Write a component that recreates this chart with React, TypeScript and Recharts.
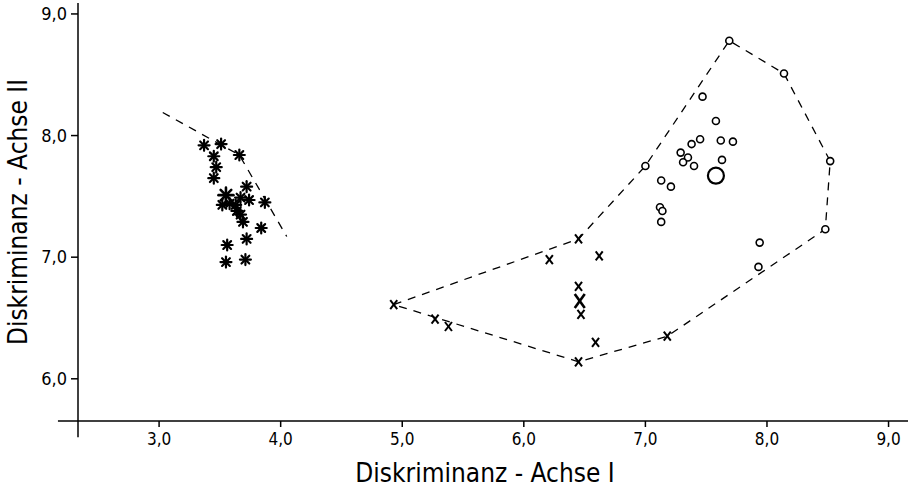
import React from "react";
import {
  ReferenceLine,
  Scatter,
  ScatterChart,
  XAxis,
  YAxis,
  Label,
} from "recharts";

// Group 1 (asterisks)
const starX = [3.37, 3.51, 3.66, 3.45, 3.47, 3.45, 3.72, 3.55, 3.67, 3.74, 3.87, 3.52, 3.58, 3.63, 3.64, 3.67, 3.69, 3.84, 3.72, 3.56, 3.55, 3.71];
const starY = [7.92, 7.93, 7.84, 7.83, 7.74, 7.65, 7.58, 7.51, 7.49, 7.47, 7.45, 7.43, 7.44, 7.43, 7.38, 7.35, 7.29, 7.24, 7.15, 7.10, 6.96, 6.98];
const starBig = [7];

// Group 2 (crosses)
const crossX = [4.93, 5.27, 5.38, 6.45, 7.18, 6.45, 6.21, 6.62, 6.45, 6.46, 6.47, 6.59];
const crossY = [6.61, 6.49, 6.43, 6.14, 6.35, 7.15, 6.98, 7.01, 6.76, 6.64, 6.53, 6.30];
const crossBig = [9];

// Group 3 (open circles)
const circX = [7.69, 8.14, 8.52, 7.47, 7.00, 7.58, 7.38, 7.45, 7.62, 7.72, 7.29, 7.35, 7.31, 7.40, 7.63, 7.58, 7.13, 7.21, 7.12, 7.14, 7.13, 7.94, 7.93, 8.48];
const circY = [8.78, 8.51, 7.79, 8.32, 7.75, 8.12, 7.93, 7.97, 7.96, 7.95, 7.86, 7.82, 7.78, 7.75, 7.80, 7.67, 7.63, 7.58, 7.41, 7.38, 7.29, 7.12, 6.92, 7.23];
const circBig = [15];

// dashed boundaries
const starEdgeX = [3.03, 3.66, 4.05];
const starEdgeY = [8.19, 7.84, 7.17];
const hullX = [4.93, 6.45, 7.0, 7.69, 8.14, 8.52, 8.48, 7.18, 6.45, 4.93];
const hullY = [6.61, 7.15, 7.75, 8.78, 8.51, 7.79, 7.23, 6.35, 6.14, 6.61];

const ticks = [3, 4, 5, 6, 7, 8, 9];
const yTicks = [6, 7, 8, 9];

const X_MIN = 2.333;
const X_MAX = 9.16;
const Y_MIN = 5.653;
const Y_MAX = 9.09;

const pts = (xs: number[], ys: number[], big: number[] = []) =>
  xs.map((x, i) => ({ x, y: ys[i], big: big.includes(i) }));

const fmt = (v: number) => v.toFixed(1).replace(".", ",");
const FONT = "'DejaVu Sans Condensed', 'DejaVu Sans', sans-serif";

const XTick = (p: any) => (
  <text x={p.x} y={p.y + 16} textAnchor="middle" fontSize={17} fill="#000" fontFamily={FONT}>
    {fmt(p.payload.value)}
  </text>
);

const YTick = (p: any) => (
  <text x={p.x - 2} y={p.y + 6} textAnchor="end" fontSize={18} fill="#000" fontFamily={FONT}>
    {fmt(p.payload.value)}
  </text>
);

const Star = (p: any) => {
  const { cx, cy, payload } = p;
  const r = payload.big ? 7.5 : 5.5;
  const d = r * 0.707;
  return (
    <g stroke="#000" strokeWidth={payload.big ? 2.6 : 2.2} strokeLinecap="round">
      <line x1={cx - r} y1={cy} x2={cx + r} y2={cy} />
      <line x1={cx} y1={cy - r} x2={cx} y2={cy + r} />
      <line x1={cx - d} y1={cy - d} x2={cx + d} y2={cy + d} />
      <line x1={cx - d} y1={cy + d} x2={cx + d} y2={cy - d} />
    </g>
  );
};

const Cross = (p: any) => {
  const { cx, cy, payload } = p;
  const w = payload.big ? 5 : 3.5;
  const h = payload.big ? 7 : 4.5;
  return (
    <g stroke="#000" strokeWidth={payload.big ? 2.6 : 2}>
      <line x1={cx - w} y1={cy - h} x2={cx + w} y2={cy + h} />
      <line x1={cx - w} y1={cy + h} x2={cx + w} y2={cy - h} />
    </g>
  );
};

const Circ = (p: any) => {
  const { cx, cy, payload } = p;
  return (
    <circle
      cx={cx}
      cy={cy}
      r={payload.big ? 8 : 3.5}
      fill="#fff"
      stroke="#000"
      strokeWidth={payload.big ? 2.2 : 1.6}
    />
  );
};

const Nothing = () => <g />;

export default function App() {
  return (
    <div style={{ position: "absolute", left: 0, top: 0, background: "#fff" }}>
      <ScatterChart
        width={918}
        height={490}
        margin={{ top: 3, right: 10, left: 0, bottom: 0 }}
        style={{ fontFamily: FONT }}
      >
        <XAxis
          type="number"
          dataKey="x"
          domain={[X_MIN, X_MAX]}
          ticks={ticks}
          allowDataOverflow
          height={69}
          tickSize={6}
          tick={XTick}
          axisLine={{ stroke: "#000", strokeWidth: 1.5 }}
          tickLine={{ stroke: "#000", strokeWidth: 1.5 }}
        >
          <Label
            value="Diskriminanz - Achse I"
            position="insideBottom"
            offset={8}
            dx={-8}
            fontSize={26}
            style={{ fill: "#000", fontSize: 26 }}
          />
        </XAxis>
        <YAxis
          type="number"
          dataKey="y"
          domain={[Y_MIN, Y_MAX]}
          ticks={yTicks}
          allowDataOverflow
          width={78}
          tickSize={7}
          tick={YTick}
          axisLine={{ stroke: "#000", strokeWidth: 1.5 }}
          tickLine={{ stroke: "#000", strokeWidth: 1.5 }}
        >
          <Label
            value="Diskriminanz - Achse II"
            angle={-90}
            position="insideLeft"
            offset={18}
            fontSize={26}
            style={{ fill: "#000", fontSize: 26, textAnchor: "middle" }}
          />
        </YAxis>
        <ReferenceLine
          segment={[{ x: 2.168, y: Y_MIN }, { x: X_MIN, y: Y_MIN }]}
          stroke="#000"
          strokeWidth={1.5}
          ifOverflow="visible"
        />
        <ReferenceLine
          segment={[{ x: X_MIN, y: 5.52 }, { x: X_MIN, y: Y_MIN }]}
          stroke="#000"
          strokeWidth={1.5}
          ifOverflow="visible"
        />
        <Scatter
          data={pts(starEdgeX, starEdgeY)}
          line={{ stroke: "#000", strokeWidth: 1.3, strokeDasharray: "8 7" }}
          lineType="joint"
          shape={Nothing}
          isAnimationActive={false}
        />
        <Scatter
          data={pts(hullX, hullY)}
          line={{ stroke: "#000", strokeWidth: 1.3, strokeDasharray: "8 7" }}
          lineType="joint"
          shape={Nothing}
          isAnimationActive={false}
        />
        <Scatter data={pts(starX, starY, starBig)} shape={Star} isAnimationActive={false} />
        <Scatter data={pts(crossX, crossY, crossBig)} shape={Cross} isAnimationActive={false} />
        <Scatter data={pts(circX, circY, circBig)} shape={Circ} isAnimationActive={false} />
      </ScatterChart>
    </div>
  );
}
